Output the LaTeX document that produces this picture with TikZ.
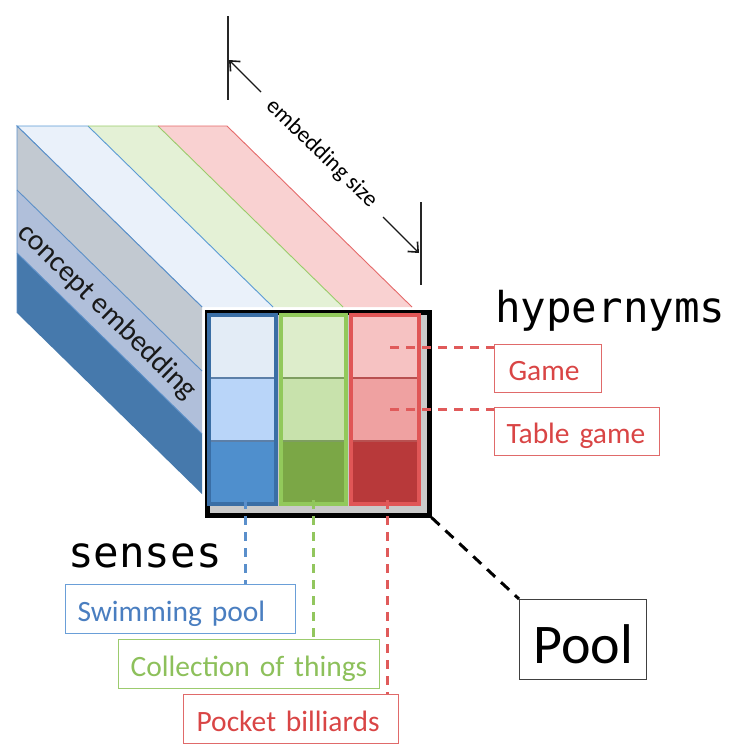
\documentclass[tikz,border=0pt]{standalone}
\usepackage{fontspec}
\setmainfont{Carlito}
\newfontfamily\monof{DejaVu Sans Mono}
\usetikzlibrary{arrows.meta}
\definecolor{sbluef}{HTML}{EAF1FA}
\definecolor{sbluel}{HTML}{5A9AD4}
\definecolor{sgreenf}{HTML}{E4F1D6}
\definecolor{sgreenl}{HTML}{9ACB6A}
\definecolor{sredf}{HTML}{F9D1D1}
\definecolor{sredl}{HTML}{E56A6A}
\definecolor{lgray}{HTML}{C2C9D1}
\definecolor{lmid}{HTML}{B0BFDA}
\definecolor{ldark}{HTML}{4679AC}
\definecolor{lline}{HTML}{5B8FC8}
\definecolor{frontgray}{HTML}{CACACA}
\definecolor{b1}{HTML}{E3ECF6}
\definecolor{b2}{HTML}{B9D5F9}
\definecolor{b3}{HTML}{4F8FCD}
\definecolor{bb}{HTML}{3A6EA5}
\definecolor{bsep}{HTML}{5C7FA8}
\definecolor{g1}{HTML}{DDEDCB}
\definecolor{g2}{HTML}{C8E2AC}
\definecolor{g3}{HTML}{7BA746}
\definecolor{gb}{HTML}{92C95B}
\definecolor{gsep}{HTML}{7E9E60}
\definecolor{r1}{HTML}{F6C2C2}
\definecolor{r2}{HTML}{EFA1A1}
\definecolor{r3}{HTML}{B8393A}
\definecolor{rb}{HTML}{E05656}
\definecolor{rsep}{HTML}{B85050}
\definecolor{tblue}{HTML}{4A7EC0}
\definecolor{boxblue}{HTML}{6A9FD8}
\definecolor{tgreen}{HTML}{8DC05B}
\definecolor{boxgreen}{HTML}{9CCB6E}
\definecolor{tred}{HTML}{D94545}
\definecolor{boxred}{HTML}{E06A6A}
\definecolor{dblue}{HTML}{5A8FCB}
\definecolor{dgreen}{HTML}{92C65E}
\definecolor{dred}{HTML}{E05A5A}
\begin{document}
\begin{tikzpicture}[x=1pt,y=-1pt,
  lbl/.style={draw, line width=1.1pt, inner xsep=12pt, inner ysep=0pt, align=left,
    anchor=north west, text depth=0pt, text height=24.5pt, minimum height=49pt,
    font=\fontsize{29.5}{34}\selectfont},
  cdash/.style={line width=3pt, dash pattern=on 9pt off 7pt},
  dimline/.style={line width=1.2pt, draw=black!85},
  dimarrow/.style={line width=1.4pt, draw=black!90, -{Straight Barb[length=8pt,width=14pt,line width=1.6pt]}},
  monolbl/.style={font=\monof\fontsize{42.5}{48}\selectfont, inner sep=0pt, anchor=base west}
]
\useasboundingbox (0,0) rectangle (737,755);

% top face stripes
\fill[sbluef] (17,126) -- (88,126) -- (273,307) -- (202,307) -- cycle;
\fill[sgreenf] (88,126) -- (158,126) -- (343,307) -- (273,307) -- cycle;
\fill[sredf] (158,126) -- (227,126) -- (412,307) -- (343,307) -- cycle;
\draw[sbluel, line width=0.9pt] (202,307) -- (17,126) -- (88,126) -- (273,307);
\draw[sgreenl, line width=0.9pt] (88,126) -- (158,126) -- (343,307);
\draw[sredl, line width=0.9pt] (158,126) -- (227,126) -- (412,307);

% left face layers
\fill[lgray] (17,126) -- (202,307) -- (202,371) -- (17,190) -- cycle;
\fill[lmid] (17,190) -- (202,371) -- (202,434) -- (17,253) -- cycle;
\fill[ldark] (17,253) -- (202,434) -- (202,494) -- (17,313) -- cycle;
\draw[lline, line width=0.9pt] (17,313) -- (17,126) -- (202,307);
\draw[lline, line width=0.9pt] (17,190) -- (202,371);
\draw[lline, line width=0.9pt] (17,253) -- (202,434);
\node[rotate=-44.4, font=\fontsize{29.5}{32}\selectfont, text=black!90, inner sep=0pt] (ce) at (107,312) {concept embedding};

% embedding size annotation
\coordinate (v1a) at (228,16); \coordinate (v1b) at (228,100);
\coordinate (v2a) at (421,202); \coordinate (v2b) at (421,285);
\draw[dimline] (v1a) -- (v1b);
\draw[dimline] (v2a) -- (v2b);
\coordinate (a1s) at (261,92); \coordinate (a1e) at (229,60);
\coordinate (a2s) at (383,217); \coordinate (a2e) at (419,253);
\draw[dimarrow] (a1s) -- (a1e);
\draw[dimarrow] (a2s) -- (a2e);
\node[rotate=-44, font=\fontsize{23}{26}\selectfont, inner sep=0pt] (es) at (321.5,153.5) {embedding size};

% front face
\node[draw=black, line width=5pt, fill=frontgray, minimum width=222pt, minimum height=203pt,
  anchor=north west, inner sep=0pt] (front) at (204.5,309.5) {};

% blue column
\fill[b1] (207,313) rectangle (278,378);
\fill[b2] (207,378) rectangle (278,441);
\fill[b3] (207,441) rectangle (278,506);
\draw[bsep, line width=1.4pt] (209,378) -- (276,378) (209,441) -- (276,441);
\draw[bb, line width=3.8pt] (208.9,314.9) rectangle (276.1,504.1);
% green column
\fill[g1] (279,313) rectangle (348,378);
\fill[g2] (279,378) rectangle (348,441);
\fill[g3] (279,441) rectangle (348,506);
\draw[gsep, line width=1.4pt] (281,378) -- (346,378) (281,441) -- (346,441);
\draw[gb, line width=3.8pt] (280.9,314.9) rectangle (346.1,504.1);
% red column
\fill[r1] (349,313) rectangle (421,378);
\fill[r2] (349,378) rectangle (421,441);
\fill[r3] (349,441) rectangle (421,506);
\draw[rsep, line width=1.4pt] (351,378) -- (419,378) (351,441) -- (419,441);
\draw[rb, line width=3.8pt] (350.9,314.9) rectangle (419.1,504.1);

% headings
\node[monolbl] (hyp) at (495,322) {hypernyms};
\node[monolbl] (sen) at (68,567) {senses};

% label boxes
\node[lbl, draw=boxblue, text=tblue, text width=206pt] (sw) at (65,584) {Swimming pool};
\node[lbl, draw=boxgreen, text=tgreen, text width=237pt] (cot) at (118,639) {Collection of things};
\node[lbl, draw=boxred, text=tred, inner xsep=13pt, text width=189pt] (pb) at (183,694) {Pocket billiards};
\node[lbl, draw=boxred, text=tred, inner xsep=14pt, text width=79pt, minimum height=48pt] (game) at (494,344) {Game};
\node[lbl, draw=boxred, text=tred, text width=141pt, minimum height=48pt] (tg) at (494,407) {Table game};
\node[lbl, draw=black!75, text=black, inner xsep=14pt, text width=99pt, minimum height=80pt,
  text height=47pt, font=\fontsize{56}{60}\selectfont] (pool) at (519,599) {Pool};

% connectors
\coordinate (cb) at (245,500);
\coordinate (cg) at (313,500);
\coordinate (cr) at (387,500);
\draw[cdash, dblue] (cb) -- (cb |- sw.north);
\draw[cdash, dgreen] (cg) -- (cg |- cot.north);
\draw[cdash, dred] (cr) -- (cr |- pb.north);
\coordinate (h1) at (390,347);
\coordinate (h2) at (390,409);
\draw[cdash, dred] (h1) -- (h1 -| game.west);
\draw[cdash, dred] (h2) -- (h2 -| tg.west);
\draw[line width=3pt, dash pattern=on 11pt off 8pt] (front.south east) -- (pool.north west);
\end{tikzpicture}
\end{document}
